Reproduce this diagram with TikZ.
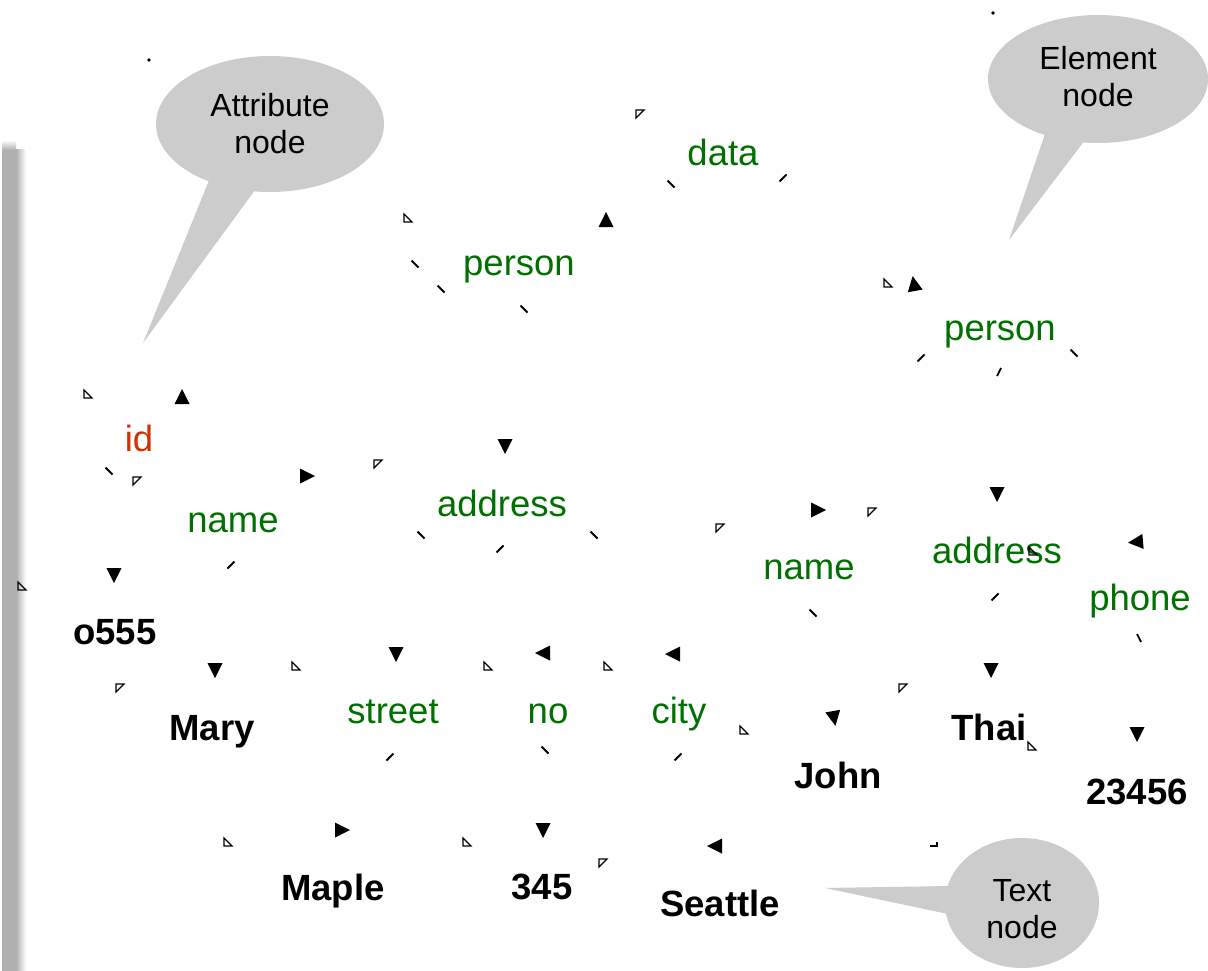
\documentclass[tikz,border=0pt]{standalone}
\usepackage{fontspec}
\setmainfont{Liberation Sans}
\usetikzlibrary{shapes.geometric}
\definecolor{elemgreen}{RGB}{0,112,0}
\definecolor{attrred}{RGB}{204,51,0}
\definecolor{calloutgray}{RGB}{204,204,204}
\definecolor{bargray}{RGB}{176,176,176}

\tikzset{
  elem/.style={text=elemgreen, font=\fontsize{36.5}{44}\selectfont, anchor=base, inner sep=0pt},
  attrib/.style={elem, text=attrred},
  textval/.style={font=\fontsize{36.5}{44}\selectfont\bfseries, anchor=base, inner sep=0pt},
  callout/.style={ellipse, fill=calloutgray, inner sep=0pt, align=center,
                  font=\fontsize{32}{37}\selectfont},
  calloutlabel/.style={inner sep=0pt, align=center, font=\fontsize{32}{37}\selectfont},
  tickmark/.style={line width=1.8pt},
  opentri/.style={line width=1.1pt, line join=miter},
}
% filled arrow head at (x,y), pointing at the given angle
\newcommand\headat[3]{\fill[shift={(#1,#2)},rotate=#3] (8,0) -- (-7,-7.5) -- (-7,7.5) -- cycle;}
% small open right triangles
\newcommand\tribl[2]{\draw[opentri] (#1-4,#2-4) -- (#1-4,#2+4) -- (#1+4,#2+4) -- cycle;}
\newcommand\tritl[2]{\draw[opentri] (#1-4,#2-4) -- (#1+4,#2-4) -- (#1-4,#2+4) -- cycle;}
% short line stubs
\newcommand\tickback[2]{\draw[tickmark] (#1-3.5,#2-3.5) -- (#1+3.5,#2+3.5);}
\newcommand\tickfwd[2]{\draw[tickmark] (#1-3.5,#2+3.5) -- (#1+3.5,#2-3.5);}

\begin{document}
\begin{tikzpicture}[x=1pt, y=-1pt]
\useasboundingbox (0,0) rectangle (1208,971);
\fill[white] (0,0) rectangle (1208,971);

% grey shadow bar on the left
\fill[bargray] (2,150) rectangle (16,971);
\shade[left color=bargray, right color=white] (16,150) rectangle (26,971);
\shade[top color=white, bottom color=bargray] (2,140) rectangle (16,150);

% callouts
\node[callout, minimum width=228pt, minimum height=136pt] (attrcall) at (270,124) {Attribute\\node};
\coordinate (attrtip) at (143,343);
\fill[calloutgray] (210,178) -- (attrtip) -- (258,186) -- cycle;

\node[callout, minimum width=220pt, minimum height=128pt] (elemcall) at (1098,79) {};
\node[calloutlabel] (elemlbl) at (1098,77) {Element\\node};
\coordinate (elemtip) at (1009,240);
\fill[calloutgray] (1047,128) -- (elemtip) -- (1085,140) -- cycle;

\node[callout, minimum width=154pt, minimum height=130pt] (textcall) at (1022,903) {};
\node[calloutlabel] (textlbl) at (1022,909) {Text\\node};
\coordinate (texttip) at (825,888);
\fill[calloutgray] (950,886) -- (texttip) -- (948,914) -- cycle;

% element nodes
\node[elem] (data)     at (723,165) {data};
\node[elem] (personA)  at (519,275) {person};
\node[elem] (personB)  at (1000,340) {person};
\node[attrib] (id)     at (139,451) {id};
\node[elem] (nameA)    at (233,532) {name};
\node[elem] (addressA) at (502,516) {address};
\node[elem] (nameB)    at (809,579) {name};
\node[elem] (addressB) at (997,563) {address};
\node[elem] (phone)    at (1140,610) {phone};
\node[elem] (street)   at (393,723) {street};
\node[elem] (no)       at (548,723) {no};
\node[elem] (city)     at (679,723) {city};

% text nodes
\node[textval] (o555)    at (115,644) {o555};
\node[textval] (mary)    at (212,740) {Mary};
\node[textval] (john)    at (838,788) {John};
\node[textval] (thai)    at (989,740) {Thai};
\node[textval] (phoneno) at (1137,804) {23456};
\node[textval] (maple)   at (333,900) {Maple};
\node[textval] (num)     at (542,899) {345};
\node[textval] (seattle) at (720,916) {Seattle};

% arrow heads
\headat{606}{220}{90}
\headat{182}{397}{90}
\headat{914}{284}{100}
\headat{307}{476}{0}
\headat{505}{446}{270}
\headat{114}{575}{270}
\headat{818}{510}{0}
\headat{997}{494}{270}
\headat{1136}{542}{185}
\headat{215}{670}{270}
\headat{396}{654}{270}
\headat{543}{653}{180}
\headat{673}{654}{180}
\headat{342}{830}{0}
\headat{543}{830}{270}
\headat{715}{846}{180}
\headat{834}{718}{280}
\headat{991}{670}{270}
\headat{1137}{734}{270}

% open triangles
\tritl{640}{114}
\tribl{408}{218}
\tribl{88}{394}
\tritl{137}{481}
\tribl{22}{586}
\tritl{378}{464}
\tritl{720}{528}
\tritl{872}{512}
\tribl{888}{283}
\tribl{1033}{551}
\tritl{120}{688}
\tribl{296}{666}
\tribl{488}{666}
\tribl{608}{666}
\tribl{744}{730}
\tritl{903}{688}
\tribl{1032}{746}
\tribl{228}{842}
\tribl{467}{842}
\tritl{603}{863}
\draw[line width=1.6pt] (930,846) -- (937,846) -- (937,842);

% line stubs
\tickback{671}{184}
\tickfwd{783}{178}
\tickback{415}{264}
\tickback{441}{289}
\tickback{524}{309}
\tickfwd{921}{358}
\draw[tickmark] (997,376) -- (1001,368);
\tickback{1074}{353}
\tickback{109}{471}
\tickfwd{231}{565}
\tickback{421}{535}
\tickfwd{500}{549}
\tickback{594}{535}
\tickback{813}{613}
\tickfwd{995}{597}
\draw[tickmark] (1137,634) -- (1141,642);
\tickfwd{390}{757}
\tickback{545}{750}
\tickfwd{678}{757}

% dots
\fill (149,60) circle (1.8pt);
\fill (993,13) circle (1.8pt);
\end{tikzpicture}
\end{document}
